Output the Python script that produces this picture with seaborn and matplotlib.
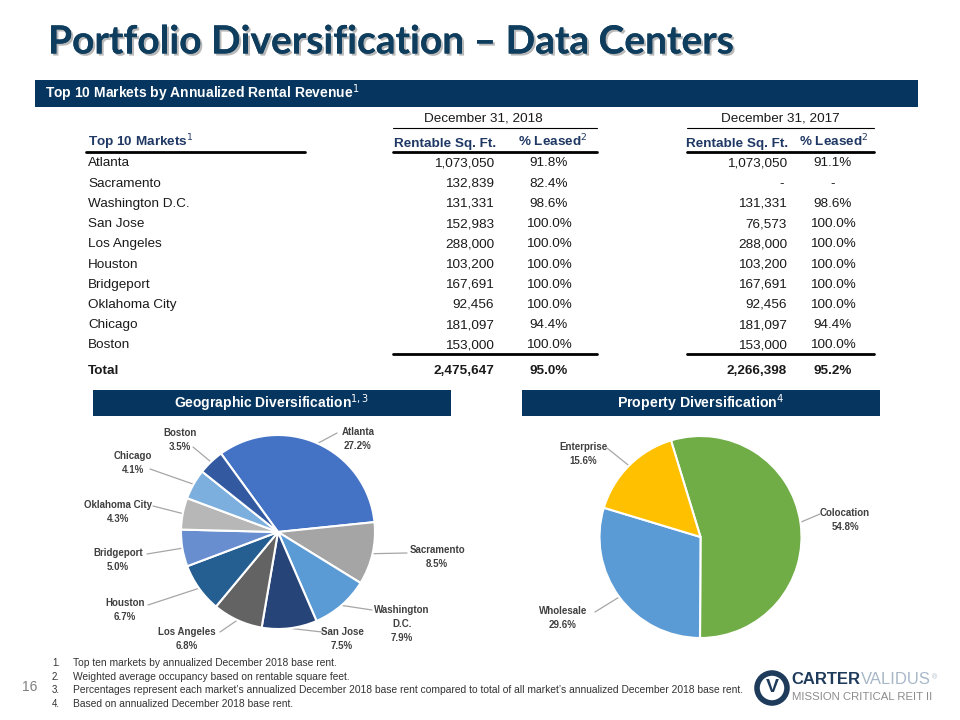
import numpy as np
import pandas as pd
import seaborn as sns
import matplotlib
matplotlib.use("Agg")
import matplotlib.pyplot as plt
from matplotlib.patches import Rectangle, Circle
import matplotlib.patheffects as pe

# ---------------- data ----------------
markets = ["Atlanta", "Sacramento", "Washington D.C.", "San Jose", "Los Angeles",
           "Houston", "Bridgeport", "Oklahoma City", "Chicago", "Boston"]
sqft_2018 = [1073050, 132839, 131331, 152983, 288000, 103200, 167691, 92456, 181097, 153000]
leased_2018 = [91.8, 82.4, 98.6, 100.0, 100.0, 100.0, 100.0, 100.0, 94.4, 100.0]
sqft_2017 = [1073050, None, 131331, 76573, 288000, 103200, 167691, 92456, 181097, 153000]
leased_2017 = [91.1, None, 98.6, 100.0, 100.0, 100.0, 100.0, 100.0, 94.4, 100.0]
total_sqft = [2475647, 2266398]
total_leased = [95.0, 95.2]

geo_labels = ["Atlanta", "Sacramento", "Washington\nD.C.", "San Jose", "Los Angeles",
              "Houston", "Bridgeport", "Oklahoma City", "Chicago", "Boston"]
geo_share = [27.2, 8.5, 7.9, 7.5, 6.8, 6.7, 5.0, 4.3, 4.1, 3.5]
geo_colors = ["#4472C4", "#A5A5A5", "#5B9BD5", "#264478", "#636363",
              "#255E91", "#698ED0", "#B7B7B7", "#7CAFDD", "#335AA1"]

prop_labels = ["Colocation", "Wholesale", "Enterprise"]
prop_share = [54.8, 29.6, 15.6]
prop_colors = ["#70AD47", "#5B9BD5", "#FFC000"]

footnotes = [
    "Top ten markets by annualized December 2018 base rent.",
    "Weighted average occupancy based on rentable square feet.",
    "Percentages represent each market\u2019s annualized December 2018 base rent compared to total of all market\u2019s annualized December 2018 base rent.",
    "Based on annualized December 2018 base rent.",
]

# ---------------- style ----------------
sns.set_theme(style="white")
plt.rcParams["font.family"] = ["Liberation Sans", "DejaVu Sans"]
TITLEF = ["Lato", "Liberation Sans", "DejaVu Sans"]
NAVY = "#06365F"
HDR = "#1F3864"
TXT = "#1a1a1a"

fig = plt.figure(figsize=(9.6, 7.2), dpi=100)
ov = fig.add_axes([0, 0, 1, 1])


def T(y):
    return 720 - y


def setlim():
    ov.set_xlim(0, 960)
    ov.set_ylim(0, 720)
    ov.set_aspect("equal")
    ov.axis("off")


setlim()

# ---------------- title ----------------
ov.text(48, T(42), "Portfolio Diversification \u2013 Data Centers", family=TITLEF,
        weight="bold", fontsize=28, color="#0E3D5E", va="center", ha="left",
        path_effects=[pe.withSimplePatchShadow(offset=(1.5, -1.5), shadow_rgbFace="#8a8a8a", alpha=0.6),
                      pe.Normal()])

# ---------------- banners ----------------
ov.add_patch(Rectangle((35, T(107)), 883, 27, color=NAVY, lw=0))
ov.text(45, T(93.5), "Top 10 Markets by Annualized Rental Revenue$^{1}$", color="white",
        weight="bold", fontsize=10, va="center", ha="left")

ov.add_patch(Rectangle((93, T(416)), 358, 26, color=NAVY, lw=0))
ov.text(272, T(403), "Geographic Diversification$^{1,3}$", color="white", weight="bold",
        fontsize=10, va="center", ha="center")
ov.add_patch(Rectangle((522, T(416)), 358, 26, color=NAVY, lw=0))
ov.text(701, T(403), "Property Diversification$^{4}$", color="white", weight="bold",
        fontsize=10.2, va="center", ha="center")

# ---------------- table ----------------
FS = 9.7
OFF = 4.5  # baseline offset below row centre


def cell(x, ytop, s, ha, bold=False, color=TXT):
    ov.text(x, T(ytop + OFF), s, fontsize=FS, color=color, ha=ha, va="baseline",
            weight="bold" if bold else "normal")


cell(483, 117, "December 31, 2018", "center")
cell(780, 117, "December 31, 2017", "center")
ov.plot([393, 597], [T(128), T(128)], color="black", lw=0.8)
ov.plot([687, 874], [T(128), T(128)], color="black", lw=0.8)

cell(88, 142, "Top 10 Markets$^{1}$", "left", True, HDR)
for xr, xc in [(496, 553), (788, 834)]:
    cell(xr, 142, "Rentable Sq. Ft.", "right", True, HDR)
    cell(xc, 142, "% Leased$^{2}$", "center", True, HDR)
for x0, x1 in [(86, 305), (393, 597), (687, 874)]:
    ov.plot([x0, x1], [T(152), T(152)], color="black", lw=2)

row_y0, row_dy = 162, 20.2
for i, m in enumerate(markets):
    y = row_y0 + i * row_dy
    cell(88, y, m, "left")
    cell(494, y, f"{sqft_2018[i]:,}", "right")
    cell(549, y, f"{leased_2018[i]:.1f}%", "center")
    s17 = "-" if sqft_2017[i] is None else f"{sqft_2017[i]:,}"
    l17 = "-" if leased_2017[i] is None else f"{leased_2017[i]:.1f}%"
    cell(787 if sqft_2017[i] is not None else 784, y, s17, "right")
    cell(833, y, l17, "center")

for x0, x1 in [(393, 597), (687, 874)]:
    ov.plot([x0, x1], [T(354), T(354)], color="black", lw=2)
cell(88, 370, "Total", "left", True)
cell(494, 370, f"{total_sqft[0]:,}", "right", True)
cell(549, 370, f"{total_leased[0]:.1f}%", "center", True)
cell(787, 370, f"{total_sqft[1]:,}", "right", True)
cell(833, 370, f"{total_leased[1]:.1f}%", "center", True)

# ---------------- pies ----------------
geo_c = (278, T(532))
prop_c = (700.5, T(537))
wg, _ = ov.pie(geo_share, colors=geo_colors, center=geo_c, radius=97, startangle=126,
               counterclock=False, wedgeprops=dict(edgecolor="white", linewidth=1.5))
wp, _ = ov.pie(prop_share, colors=prop_colors, center=prop_c, radius=101, startangle=107,
               counterclock=False, wedgeprops=dict(edgecolor="white", linewidth=1.5))
setlim()

LBL = "#404040"
LINE = "#A6A6A6"
# label centre (x, y of first line) and leader start point, in top-based pixels
geo_lpos = [(358, 439, 337, 433), (437, 557, 407, 553), (402, 624, 372, 610),
            (342, 639, 322, 632), (187, 639, 220, 632), (125, 610, 148, 605),
            (118, 560, 147, 554), (118, 512, 153, 506), (133, 463, 150, 469),
            (180, 440, 193, 447)]
prop_lpos = [(845, 520, 820, 514), (563, 618, 595, 612), (583, 454, 607, 448)]


def label_pie(wedges, labels, shares, lpos):
    for w, lab, sh, (tx, tyy, lx, ly) in zip(wedges, labels, shares, lpos):
        mid = np.deg2rad((w.theta1 + w.theta2) / 2)
        ex = w.center[0] + w.r * np.cos(mid)
        ey = w.center[1] + w.r * np.sin(mid)
        ov.plot([lx, ex], [T(ly), ey], color=LINE, lw=0.9, zorder=0.5)
        ov.text(tx, T(tyy), f"{lab}\n{sh:.1f}%", fontsize=7, color=LBL, weight="bold",
                ha="center", va="center", linespacing=1.45)


label_pie(wg, geo_labels, geo_share, geo_lpos)
label_pie(wp, prop_labels, prop_share, prop_lpos)

# ---------------- footnotes ----------------
for i, f in enumerate(footnotes):
    y = T(663 + i * 13.7)
    ov.text(52, y, f"{i + 1}.", fontsize=7, color="#333333", ha="left", va="center")
    ov.text(73, y, f, fontsize=7.4, color="#333333", ha="left", va="center")
ov.text(30, T(687), "16", fontsize=10, color="#7f7f7f", ha="center", va="center")

# ---------------- logo ----------------
ov.add_patch(Circle((772, T(688)), 15, facecolor="white", edgecolor="#1F3B5C", lw=4))
ov.text(772, T(688), "V", fontsize=14, weight="bold", color="#1F3B5C", ha="center", va="center")
carter = ov.text(791, T(679), "CARTER", fontsize=12, weight="bold", color="#1F3B5C",
                 ha="left", va="center")
validus = ov.annotate("VALIDUS", xy=(1, 0.5), xycoords=carter, xytext=(1, 0),
                      textcoords="offset points", fontsize=12, color="#A9B8C8",
                      ha="left", va="center")
ov.annotate("\u00ae", xy=(1, 1), xycoords=validus, xytext=(0.5, -2),
            textcoords="offset points", fontsize=5, color="#A9B8C8", ha="left", va="top")
ov.text(792, T(697), "MISSION CRITICAL REIT II", fontsize=8.2, color="#8C8C8C",
        ha="left", va="center")

fig.savefig("out.png", dpi=100)
